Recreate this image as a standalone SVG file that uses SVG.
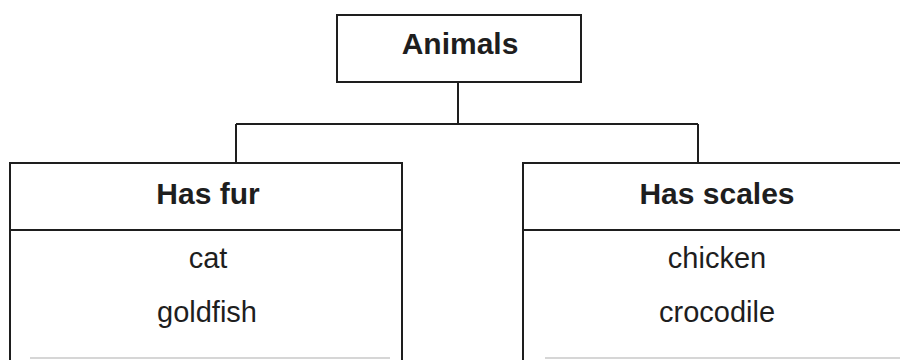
<svg xmlns="http://www.w3.org/2000/svg" width="900" height="360" viewBox="0 0 900 360">
<style>
.box{fill:#fff;stroke:#1e1e1e;stroke-width:2}
.ln{fill:none;stroke:#1e1e1e;stroke-width:2}
.faint{fill:none;stroke:#c8c8c8;stroke-width:1.5}
.h{font-family:"Liberation Sans",Arial,sans-serif;font-weight:bold;font-size:30px;fill:#1e1e1e;text-anchor:middle}
.t{font-family:"Liberation Sans",Arial,sans-serif;font-size:29px;fill:#1e1e1e;text-anchor:middle}
</style>
<rect width="900" height="360" fill="#fff"/>
<g id="connectors">
<path class="ln" d="M458,82 V124 M236,124 H698 M236,124 V163 M698,124 V163"/>
</g>
<g id="animals">
<rect class="box" x="337" y="15" width="244" height="67"/>
<text class="h" x="460" y="54">Animals</text>
</g>
<g id="has-fur">
<rect class="box" x="10" y="163" width="392" height="202"/>
<line class="ln" x1="10" y1="230" x2="402" y2="230"/>
<line class="faint" x1="30" y1="358" x2="390" y2="358"/>
<text class="h" x="208" y="204">Has fur</text>
<text class="t" x="208" y="268">cat</text>
<text class="t" x="207" y="322">goldfish</text>
</g>
<g id="has-scales">
<rect class="box" x="523" y="163" width="390" height="202"/>
<line class="ln" x1="523" y1="230" x2="913" y2="230"/>
<line class="faint" x1="545" y1="358" x2="900" y2="358"/>
<text class="h" x="717" y="204">Has scales</text>
<text class="t" x="717" y="268">chicken</text>
<text class="t" x="717" y="322">crocodile</text>
</g>
</svg>
